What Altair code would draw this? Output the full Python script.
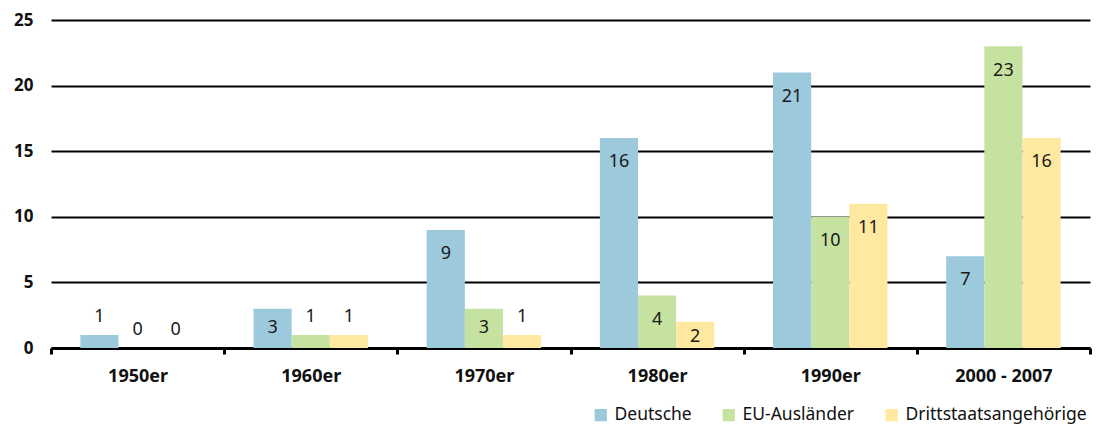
import altair as alt
import pandas as pd

decades = ["1950er", "1960er", "1970er", "1980er", "1990er", "2000 - 2007"]
groups = ["Deutsche", "EU-Ausländer", "Drittstaatsangehörige"]
deutsche = [1, 3, 9, 16, 21, 7]
eu_auslaender = [0, 1, 3, 4, 10, 23]
drittstaaten = [0, 1, 1, 2, 11, 16]
colors = ["#9DC9DC", "#C6E2A0", "#FFE8A0"]

rows = []
for series, values in zip(groups, [deutsche, eu_auslaender, drittstaaten]):
    for dec, v in zip(decades, values):
        rows.append({"decade": dec, "group": series, "value": v})
df = pd.DataFrame(rows)

FONT = "Noto Sans"

x = alt.X("decade:N", sort=decades, title=None,
          scale=alt.Scale(paddingInner=0, paddingOuter=0),
          axis=alt.Axis(labelAngle=0, labelFontWeight="bold", labelFontSize=18,
                        labelColor="#111", labelPadding=13, tickBand="extent",
                        domainColor="#000", domainWidth=3, tickColor="#000",
                        tickWidth=3, tickSize=6, grid=False, labelFont=FONT))
xo = alt.XOffset("group:N", sort=groups,
                 scale=alt.Scale(paddingInner=0, paddingOuter=0.77))

bars = alt.Chart(df).mark_bar().encode(
    x=x,
    xOffset=xo,
    y=alt.Y("value:Q", title=None,
            scale=alt.Scale(domain=[0, 25], nice=False),
            axis=alt.Axis(values=[0, 5, 10, 15, 20, 25], domain=False, ticks=False,
                          labelFontWeight="bold", labelFontSize=17, labelColor="#111",
                          labelPadding=18, gridColor="#000", gridWidth=2.2,
                          labelFont=FONT)),
    color=alt.Color("group:N", sort=groups,
                    scale=alt.Scale(domain=groups, range=colors),
                    legend=alt.Legend(title=None, orient="none", direction="horizontal",
                                      legendX=541, legendY=386, symbolType="square",
                                      symbolSize=150, symbolStrokeWidth=0,
                                      labelFontSize=17.5, labelFont=FONT,
                                      labelColor="#111", columnPadding=28,
                                      labelOffset=5, labelLimit=400)),
)

# Value labels: inside the bar top for taller bars, above for the smallest ones
labels = alt.Chart(df).transform_calculate(
    pos="datum.value >= 4 ? datum.value - 1.85 : (datum.value == 3 ? 1.5 : (datum.value == 2 ? 0.85 : datum.value + 1.4))"
).mark_text(fontSize=18, font=FONT, color="#1a1a1a", baseline="middle").encode(
    x=alt.X("decade:N", sort=decades),
    xOffset=alt.XOffset("group:N", sort=groups),
    y=alt.Y("pos:Q"),
    text=alt.Text("value:Q"),
)

chart = alt.layer(bars, labels).properties(
    width=1039, height=328,
    padding={"left": 51, "top": 20, "right": 7, "bottom": 81},
    autosize=alt.AutoSizeParams(type="none"),
).configure_view(stroke=None).configure_axis(labelFont=FONT)

chart.save("out.html", embed_options={"renderer": "svg", "actions": False})
